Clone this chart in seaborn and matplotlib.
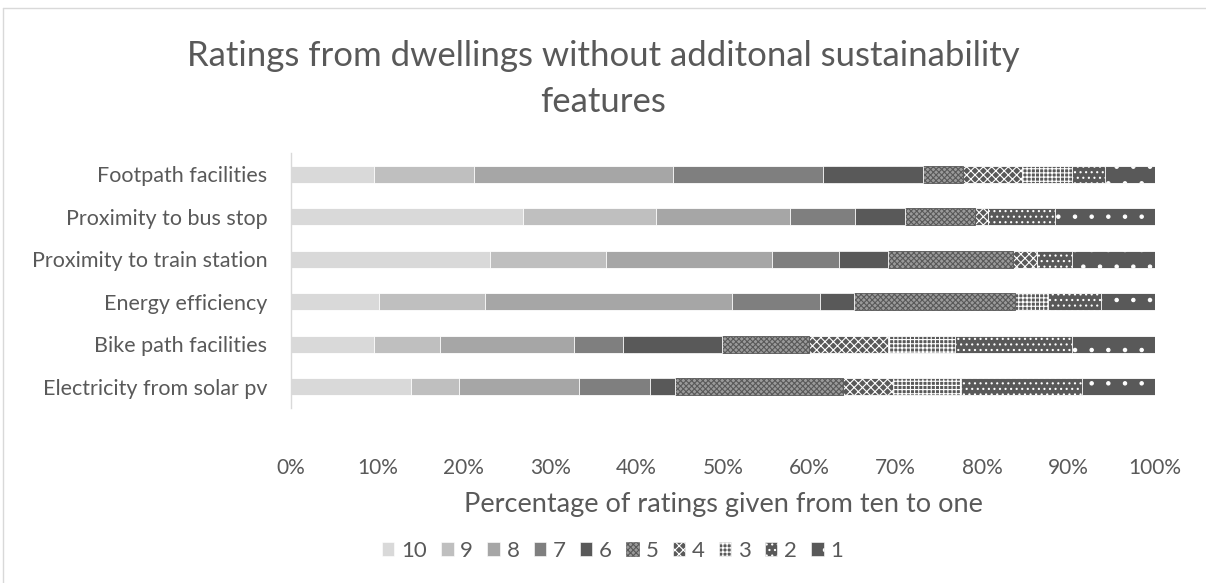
import numpy as np
import pandas as pd
import matplotlib
matplotlib.use("Agg")
import matplotlib.pyplot as plt
from matplotlib.lines import Line2D
from matplotlib.patches import Patch
import seaborn as sns

# Features, listed top to bottom
features = [
    "Footpath facilities",
    "Proximity to bus stop",
    "Proximity to train station",
    "Energy efficiency",
    "Bike path facilities",
    "Electricity from solar pv",
]

# Share of ratings (%) per score, one list per score from ten down to one
r10 = [9.6, 26.9, 23.0, 10.2, 9.6, 13.9]
r9 = [11.6, 15.3, 13.5, 12.2, 7.6, 5.5]
r8 = [23.0, 15.5, 19.2, 28.6, 15.5, 13.9]
r7 = [17.4, 7.6, 7.7, 10.2, 5.7, 8.3]
r6 = [11.5, 5.8, 5.7, 4.0, 11.5, 2.8]
r5 = [4.7, 8.1, 14.5, 18.6, 10.0, 19.5]
r4 = [6.8, 1.5, 2.8, 0.0, 9.2, 5.8]
r3 = [5.8, 0.0, 0.0, 3.8, 7.8, 7.9]
r2 = [3.8, 7.7, 4.0, 6.2, 13.5, 14.0]
r1 = [5.8, 11.6, 9.6, 6.2, 9.6, 8.4]

scores = ["10", "9", "8", "7", "6", "5", "4", "3", "2", "1"]
tick_labels = ["0%", "10%", "20%", "30%", "40%", "50%", "60%", "70%", "80%", "90%", "100%"]

shares = np.array([r10, r9, r8, r7, r6, r5, r4, r3, r2, r1])
cum = np.cumsum(shares, axis=0)

# Solid greys for 10..6, white-patterned dark grey for 5..1
styles = {
    "10": ("#d9d9d9", "#ffffff", None),
    "9": ("#bfbfbf", "#ffffff", None),
    "8": ("#a6a6a6", "#ffffff", None),
    "7": ("#7f7f7f", "#ffffff", None),
    "6": ("#595959", "#ffffff", None),
    "5": ("#9a9a9a", "#595959", "xxxxxx"),
    "4": ("#595959", "#ffffff", "xxxx"),
    "3": ("#595959", "#ffffff", "++++"),
    "2": ("#595959", "#ffffff", "..."),
    "1": ("#595959", "#ffffff", "."),
}

text_col = "#595959"
sns.set_theme(style="white")
plt.rcParams["font.family"] = ["Lato", "DejaVu Sans"]
plt.rcParams["hatch.linewidth"] = 0.8
plt.rcParams["text.color"] = text_col

fig = plt.figure(figsize=(12.06, 5.83), dpi=100)
ax = fig.add_axes([291 / 1206, 1 - 408 / 583, (1155 - 291) / 1206, (408 - 153) / 583])

df = pd.DataFrame({"feature": features})
# Draw cumulative totals from score 1 back to score 10 so each layer sits on top
for i in range(len(scores) - 1, -1, -1):
    s = scores[i]
    face, edge, hatch = styles[s]
    df["value"] = cum[i]
    sns.barplot(
        data=df, x="value", y="feature", order=features, orient="h",
        color=face, edgecolor=edge, linewidth=0.6, hatch=hatch,
        width=0.4, saturation=1, ax=ax, errorbar=None,
    )

ax.set_xlim(0, 100)
ax.set_xticks(np.arange(0, 101, 10))
ax.set_xticklabels(tick_labels)
ax.set_ylim(len(features) - 0.5, -0.5)
ax.set_ylabel("")
ax.set_xlabel("Percentage of ratings given from ten to one", fontsize=19.5, color=text_col, labelpad=10)
ax.tick_params(axis="both", length=0, colors=text_col)
ax.tick_params(axis="x", pad=36, labelsize=15)
ax.tick_params(axis="y", pad=17, labelsize=15.5)
for side in ["top", "right", "bottom"]:
    ax.spines[side].set_visible(False)
ax.spines["left"].set_color("#d9d9d9")
ax.spines["left"].set_linewidth(1.0)
ax.grid(False)

fig.suptitle("Ratings from dwellings without additonal sustainability\nfeatures",
             fontsize=25, color=text_col, y=0.932, linespacing=1.55)

handles = []
for s in scores:
    face, edge, hatch = styles[s]
    handles.append(Patch(facecolor=face, edgecolor=edge, hatch=hatch, linewidth=0.4))
fig.legend(handles, scores, loc="center", bbox_to_anchor=(0.508, 1 - 551 / 583), ncol=10,
           frameon=False, fontsize=16, handlelength=0.55, handleheight=0.55,
           handletextpad=0.3, columnspacing=0.65, labelcolor=text_col)

# Chart-area frame
fig.add_artist(Line2D([3 / 1206, 3 / 1206], [0, 1 - 8 / 583], color="#d9d9d9", lw=1))
fig.add_artist(Line2D([3 / 1206, 1], [1 - 8 / 583, 1 - 8 / 583], color="#d9d9d9", lw=1))

fig.savefig("out.png", dpi=100, facecolor="white")
